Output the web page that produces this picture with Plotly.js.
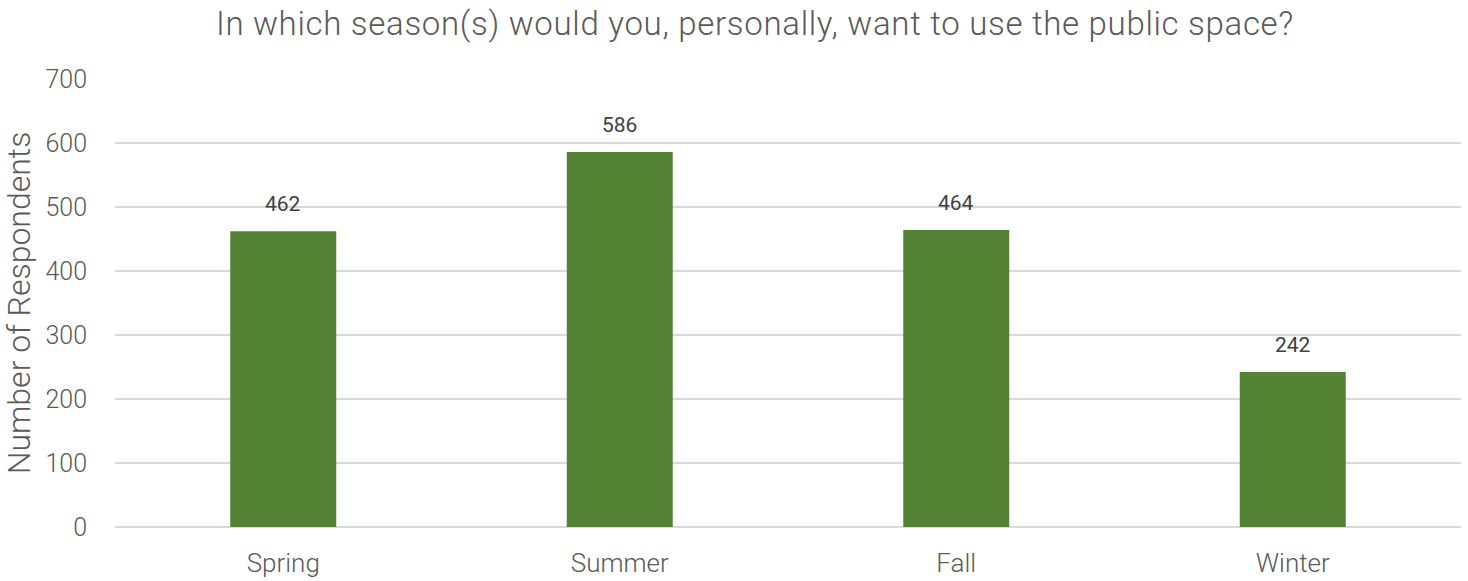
<!DOCTYPE html>
<html>
<head>
<meta charset="utf-8">
<script src="https://cdn.plot.ly/plotly-3.0.1.min.js"></script>
<style>
html,body{margin:0;padding:0;background:#fff;}
#chart{width:1468px;height:581px;}
#chart .gtitle{letter-spacing:0.7px;}
</style>
</head>
<body>
<div id="chart"></div>
<script>
const seasons = ["Spring", "Summer", "Fall", "Winter"];
const respondents = [462, 586, 464, 242];
const yTicks = [0, 100, 200, 300, 400, 500, 600, 700];

const fontFam = "Roboto, 'DejaVu Sans', sans-serif";

const trace = {
  type: "bar",
  x: seasons,
  y: respondents,
  marker: {color: "#548235"},
  hoverinfo: "x+y"
};

const annotations = seasons.map((s, i) => ({
  x: s, y: respondents[i], xref: "x", yref: "y",
  text: String(respondents[i]), showarrow: false,
  yanchor: "middle", yshift: 27,
  font: {family: fontFam, size: 21, color: "#404040", weight: 400}
}));

const layout = {
  width: 1468, height: 581,
  margin: {l: 115, r: 7, t: 79, b: 54},
  paper_bgcolor: "#ffffff", plot_bgcolor: "#ffffff",
  bargap: 0.685,
  showlegend: false,
  title: {
    text: "In which season(s) would you, personally, want to use the public space?",
    font: {family: fontFam, size: 33, color: "#595959", weight: 300},
    x: 755/1468, xref: "container", xanchor: "center",
    y: 1 - 23/581, yref: "container", yanchor: "middle"
  },
  xaxis: {
    type: "category",
    showgrid: false, zeroline: false, showline: false,
    ticks: "",
    ticklabelstandoff: 18,
    tickfont: {family: fontFam, size: 26, color: "#595959", weight: 300}
  },
  yaxis: {
    range: [0, 700],
    tickvals: yTicks,
    ticktext: yTicks.map(String),
    showgrid: true, gridcolor: "#d9d9d9", gridwidth: 2,
    zeroline: true, zerolinecolor: "#d9d9d9", zerolinewidth: 2,
    showline: false, ticks: "",
    ticklabelstandoff: 27,
    tickfont: {family: fontFam, size: 25, color: "#595959", weight: 300},
    title: {text: "Number of Respondents", standoff: 10,
      font: {family: fontFam, size: 32, color: "#595959", weight: 300}}
  },
  annotations: annotations
};

Plotly.newPlot("chart", [trace], layout, {displayModeBar: false, staticPlot: true});
</script>
</body>
</html>
